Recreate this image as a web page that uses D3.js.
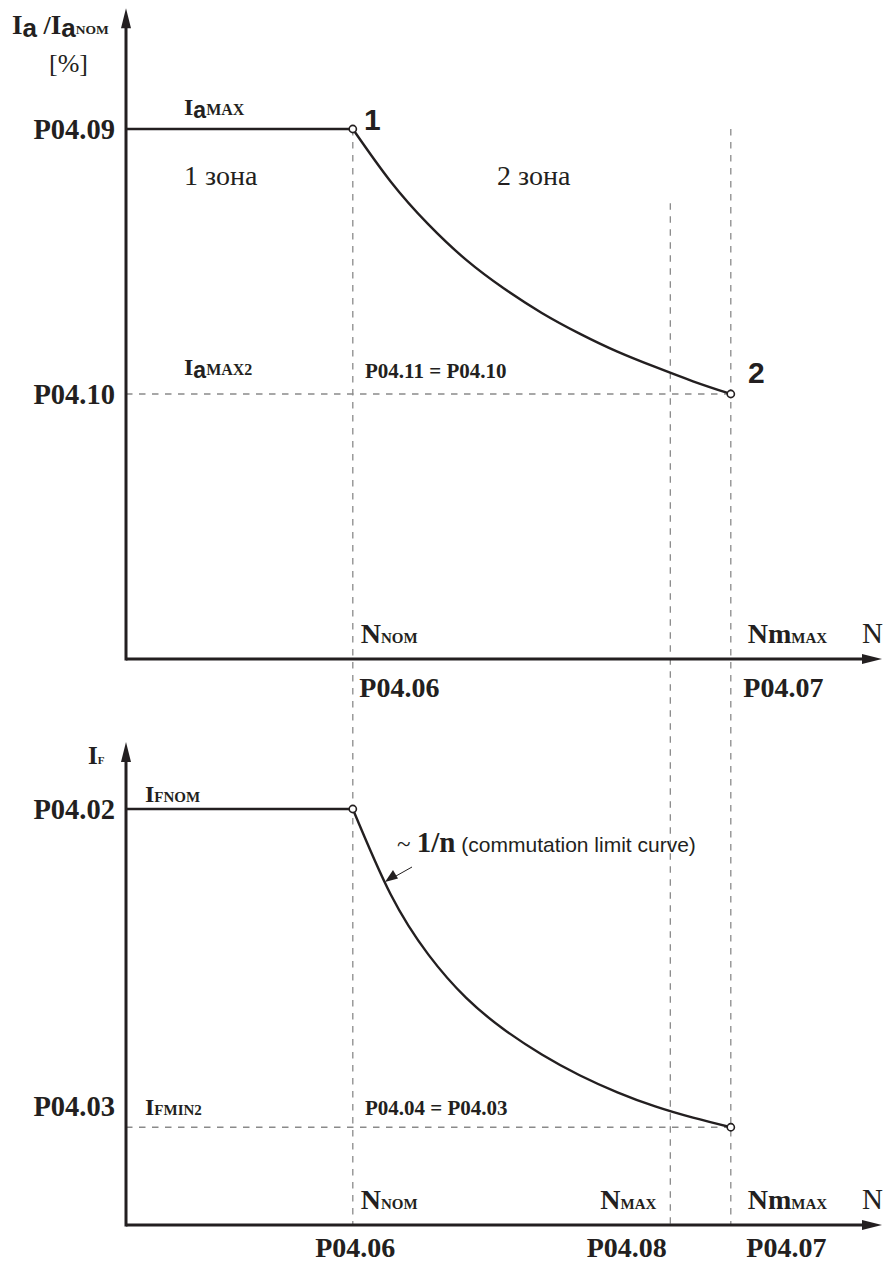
<!DOCTYPE html>
<html>
<head>
<meta charset="utf-8">
<script src="https://cdn.jsdelivr.net/npm/d3@7"></script>
<style>
body { margin: 0; background: #fff; }
svg text { fill: #231f20; }
.serif { font-family: "Liberation Serif", "Times New Roman", serif; }
.sans { font-family: "Liberation Sans", Arial, sans-serif; }
.axis path { display: none; }
</style>
</head>
<body>
<svg id="chart" width="885" height="1262"></svg>
<script>
// speeds on the N axis, in % of the drawn axis length
const nNom = 30, nMax = 72, nmMax = 80;

// armature current limit Ia/IaNOM [%] over speed
const armN = [30, 35, 40, 45, 50, 55, 60, 65, 70, 75, 80];
const armI = [100, 90.1, 82.0, 75.3, 69.9, 65.3, 61.4, 58.0, 55.1, 52.4, 50];
const armYTicks = [100, 50];
const armYLabels = ["P04.09", "P04.10"];

// field current IF [%] over speed (~1/n)
const fieldN = [30, 35, 40, 45, 50, 55, 60, 65, 70, 75, 80];
const fieldI = [100, 79.5, 65.0, 54.6, 47.0, 41.0, 36.0, 31.9, 28.5, 25.8, 23.5];
const fieldYTicks = [100, 23.5];
const fieldYLabels = ["P04.02", "P04.03"];

const topXTicks = [nNom, nmMax];
const topXLabels = ["P04.06", "P04.07"];
const botXTicks = [nNom, nMax, nmMax];
const botXLabels = ["P04.06", "P04.08", "P04.07"];

const ink = "#231f20";
const svg = d3.select("#chart");

const x = d3.scaleLinear().domain([0, 100]).range([126, 882]);
const yTop = d3.scaleLinear().domain([0, 100]).range([659, 129]);
const yBot = d3.scaleLinear().domain([0, 100]).range([1225, 809]);

const line = d3.line().x(d => x(d[0])).curve(d3.curveNatural);

function dashed(x1, y1, x2, y2) {
    svg.append("line")
        .attr("x1", x1).attr("y1", y1).attr("x2", x2).attr("y2", y2)
        .attr("stroke", "#8a8a8a").attr("stroke-width", 1.3)
        .attr("stroke-dasharray", "6.5,6.5");
}

// dashed guides
dashed(x(nNom), yTop(100), x(nNom), yBot(0));
dashed(x(nmMax), yTop(100), x(nmMax), yBot(0));
dashed(x(nMax), yTop(86), x(nMax), yBot(0));
dashed(x(0), yTop(50), x(nmMax), yTop(50));
dashed(x(0), yBot(23.5), x(nmMax), yBot(23.5));

function axes(y, yTopVal) {
    let g = svg.append("g");
    // y axis with arrow
    g.append("line")
        .attr("x1", x(0)).attr("y1", y(0) + 1.5)
        .attr("x2", x(0)).attr("y2", y(yTopVal) + 12)
        .attr("stroke", ink).attr("stroke-width", 3);
    g.append("path")
        .attr("d", `M${x(0)},${y(yTopVal)} l-5,20 l10,0 z`)
        .attr("fill", ink);
    // x axis with arrow
    g.append("line")
        .attr("x1", x(0)).attr("y1", y(0))
        .attr("x2", x(100) - 12).attr("y2", y(0))
        .attr("stroke", ink).attr("stroke-width", 3);
    g.append("path")
        .attr("d", `M${x(100)},${y(0)} l-20,-5 l0,10 z`)
        .attr("fill", ink);
}
axes(yTop, 122.8);
axes(yBot, 116.1);

function yLabels(y, ticks, labels) {
    let g = svg.append("g")
        .attr("class", "axis serif")
        .attr("transform", `translate(${x(0)},0)`)
        .call(d3.axisLeft(y).tickValues(ticks)
            .tickFormat((d, i) => labels[i]).tickSize(0).tickPadding(11));
    g.selectAll("text")
        .attr("font-size", 28.5).attr("font-weight", "bold")
        .attr("font-family", null).attr("fill", ink)
        .attr("dy", "0.34em");
    return g;
}
yLabels(yTop, armYTicks, armYLabels);
yLabels(yBot, fieldYTicks, fieldYLabels)
    .selectAll("text").filter(d => d < 50).attr("dy", -12);

function xLabels(y, ticks, labels, dy, anchors, dxs) {
    let g = svg.append("g")
        .attr("class", "axis serif")
        .attr("transform", `translate(0,${y(0)})`)
        .call(d3.axisBottom(x).tickValues(ticks)
            .tickFormat((d, i) => labels[i]).tickSize(0).tickPadding(0));
    g.selectAll("text")
        .attr("font-size", 28).attr("font-weight", "bold")
        .attr("font-family", null).attr("fill", ink)
        .attr("y", dy).attr("dy", 0)
        .attr("text-anchor", (d, i) => anchors[i])
        .attr("dx", (d, i) => dxs[i]);
}
xLabels(yTop, topXTicks, topXLabels, 38, ["start", "start"], [6, 12]);
xLabels(yBot, botXTicks, botXLabels, 32, ["middle", "end", "start"], [2, -4, 15]);

// curves: flat limit up to N_NOM, then the falling part
function curve(y, ns, vals) {
    svg.append("path")
        .attr("d", line.y(d => y(d[1]))([[0, vals[0]], [ns[0], vals[0]]]))
        .attr("fill", "none").attr("stroke", ink).attr("stroke-width", 2.4);
    svg.append("path")
        .attr("d", line.y(d => y(d[1]))(ns.map((n, i) => [n, vals[i]])))
        .attr("fill", "none").attr("stroke", ink).attr("stroke-width", 2.4);
    [0, ns.length - 1].forEach(i => {
        svg.append("circle")
            .attr("cx", x(ns[i])).attr("cy", y(vals[i])).attr("r", 3.6)
            .attr("fill", "#fff").attr("stroke", ink).attr("stroke-width", 1.6);
    });
}
curve(yTop, armN, armI);
curve(yBot, fieldN, fieldI);

// text labels built from pieces
function label(px, py, parts, anchor) {
    let t = svg.append("text").attr("x", px).attr("y", py)
        .attr("text-anchor", anchor || "start");
    parts.forEach(p => {
        t.append("tspan")
            .attr("class", p.sans ? "sans" : "serif")
            .attr("font-size", p.size)
            .attr("font-weight", p.bold === false ? "normal" : "bold")
            .attr("dy", p.dy || 0)
            .text(p.t);
    });
    return t;
}
const I = (s) => ({t: "I", size: s || 24});
const a = (s) => ({t: "a", size: s || 23, sans: true, dy: 3});
const sub = (t, s, dy) => ({t: t, size: s || 15, dy: dy || 0});

label(12, 34, [I(27), a(26), {t: " /", size: 26, dy: -3}, I(27), a(26), sub("NOM", 13.5, -3)]);
label(49, 72, [{t: "[%]", size: 26, bold: false}]);
label(184, 115, [I(), a(), sub("MAX", 16, -3)]);
label(184, 375, [I(), a(), sub("MAX2", 16, -3)]);
label(184, 185, [{t: "1 зона", size: 28, bold: false}]);
label(497, 185, [{t: "2 зона", size: 28, bold: false}]);
label(364, 130, [{t: "1", size: 30, sans: true}]);
label(748, 383, [{t: "2", size: 30, sans: true}]);
label(365, 378, [{t: "P04.11 = P04.10", size: 21}]);
label(365, 1115, [{t: "P04.04 = P04.03", size: 21}]);

[yTop(0) - 16, yBot(0) - 16].forEach(by => {
    label(x(nNom) + 8, by, [{t: "N", size: 28}, sub("NOM")]);
    label(x(nmMax) + 17, by, [{t: "Nm", size: 28}, sub("MAX")]);
    label(862, by, [{t: "N", size: 29, bold: false}]);
});
label(x(nMax) - 14, yBot(0) - 16, [{t: "N", size: 28}, sub("MAX")], "end");

label(88, 764, [I(25), sub("F", 11)]);
label(145, 802, [I(), sub("FNOM")]);
label(145, 1115, [I(), sub("FMIN2")]);

label(397, 852, [{t: "~ ", size: 25, bold: false}, {t: "1/n", size: 29},
                 {t: " (commutation limit curve)", size: 21, sans: true, bold: false}]);

// pointer arrow to the field curve
svg.append("line")
    .attr("x1", 412).attr("y1", 867).attr("x2", 396).attr("y2", 876)
    .attr("stroke", ink).attr("stroke-width", 1);
svg.append("path")
    .attr("d", "M385,882 l8,-12 l5,8.5 z")
    .attr("fill", ink);
</script>
</body>
</html>
